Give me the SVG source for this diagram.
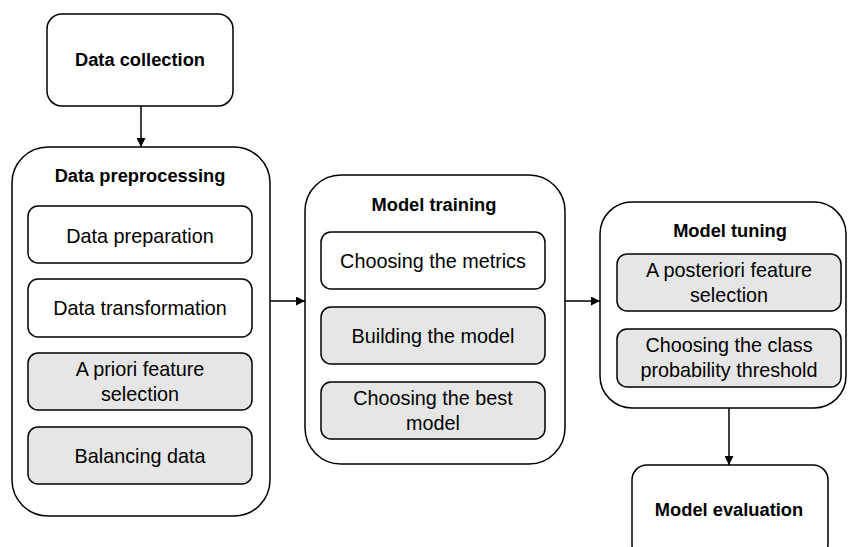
<svg xmlns="http://www.w3.org/2000/svg" width="848" height="547" viewBox="0 0 848 547">
<defs>
<style>
.box{fill:#fff;stroke:#000;stroke-width:1.5}
.grey{fill:#e6e6e6;stroke:#000;stroke-width:1.5}
.t{font-family:"Liberation Sans",Arial,sans-serif;font-size:19.8px;fill:#000;text-anchor:middle}
.b{font-family:"Liberation Sans",Arial,sans-serif;font-size:18.3px;font-weight:bold;fill:#000;text-anchor:middle}
.c{stroke:#000;stroke-width:1.5;fill:none;marker-end:url(#ah)}
</style>
<marker id="ah" viewBox="0 0 10 10" refX="10" refY="5" markerWidth="9" markerHeight="9" markerUnits="userSpaceOnUse" orient="auto">
<path d="M0,0 L10,5 L0,10 z" fill="#000"/>
</marker>
</defs>
<rect width="848" height="547" fill="#fff"/>
<g id="connectors">
<line class="c" x1="141" y1="106" x2="141" y2="147"/>
<line class="c" x1="270" y1="301" x2="305" y2="301"/>
<line class="c" x1="565" y1="301" x2="600" y2="301"/>
<line class="c" x1="729" y1="408" x2="729" y2="465"/>
</g>
<g id="data-collection">
<rect class="box" x="47" y="14" width="186" height="92" rx="15"/>
<text class="b" x="140" y="66">Data collection</text>
</g>
<g id="data-preprocessing">
<rect class="box" x="12" y="147" width="258" height="369" rx="36"/>
<text class="b" x="140" y="182">Data preprocessing</text>
</g>
<g id="data-preparation">
<rect class="box" x="28" y="206" width="224" height="57" rx="10"/>
<text class="t" x="140" y="243">Data preparation</text>
</g>
<g id="data-transformation">
<rect class="box" x="28" y="279" width="224" height="58" rx="10"/>
<text class="t" x="140" y="315">Data transformation</text>
</g>
<g id="a-priori">
<rect class="grey" x="28" y="353" width="224" height="57" rx="10"/>
<text class="t" x="140" y="376">A priori feature</text>
<text class="t" x="140" y="401">selection</text>
</g>
<g id="balancing">
<rect class="grey" x="28" y="427" width="224" height="57" rx="10"/>
<text class="t" x="140" y="463">Balancing data</text>
</g>
<g id="model-training">
<rect class="box" x="305" y="175" width="260" height="289" rx="36"/>
<text class="b" x="434" y="211">Model training</text>
</g>
<g id="choosing-metrics">
<rect class="box" x="321" y="232" width="224" height="57" rx="10"/>
<text class="t" x="433" y="268">Choosing the metrics</text>
</g>
<g id="building-model">
<rect class="grey" x="321" y="307" width="224" height="57" rx="10"/>
<text class="t" x="433" y="343">Building the model</text>
</g>
<g id="choosing-best">
<rect class="grey" x="321" y="382" width="224" height="57" rx="10"/>
<text class="t" x="433" y="405">Choosing the best</text>
<text class="t" x="433" y="430">model</text>
</g>
<g id="model-tuning">
<rect class="box" x="600" y="202" width="246" height="206" rx="32"/>
<text class="b" x="730" y="237">Model tuning</text>
</g>
<g id="a-posteriori">
<rect class="grey" x="617" y="254" width="224" height="57" rx="10"/>
<text class="t" x="729" y="277">A posteriori feature</text>
<text class="t" x="729" y="302">selection</text>
</g>
<g id="choosing-threshold">
<rect class="grey" x="617" y="329" width="224" height="58" rx="10"/>
<text class="t" x="729" y="352">Choosing the class</text>
<text class="t" x="729" y="377">probability threshold</text>
</g>
<g id="model-evaluation">
<rect class="box" x="632" y="465" width="196" height="95" rx="15"/>
<text class="b" x="729" y="516">Model evaluation</text>
</g>
</svg>
